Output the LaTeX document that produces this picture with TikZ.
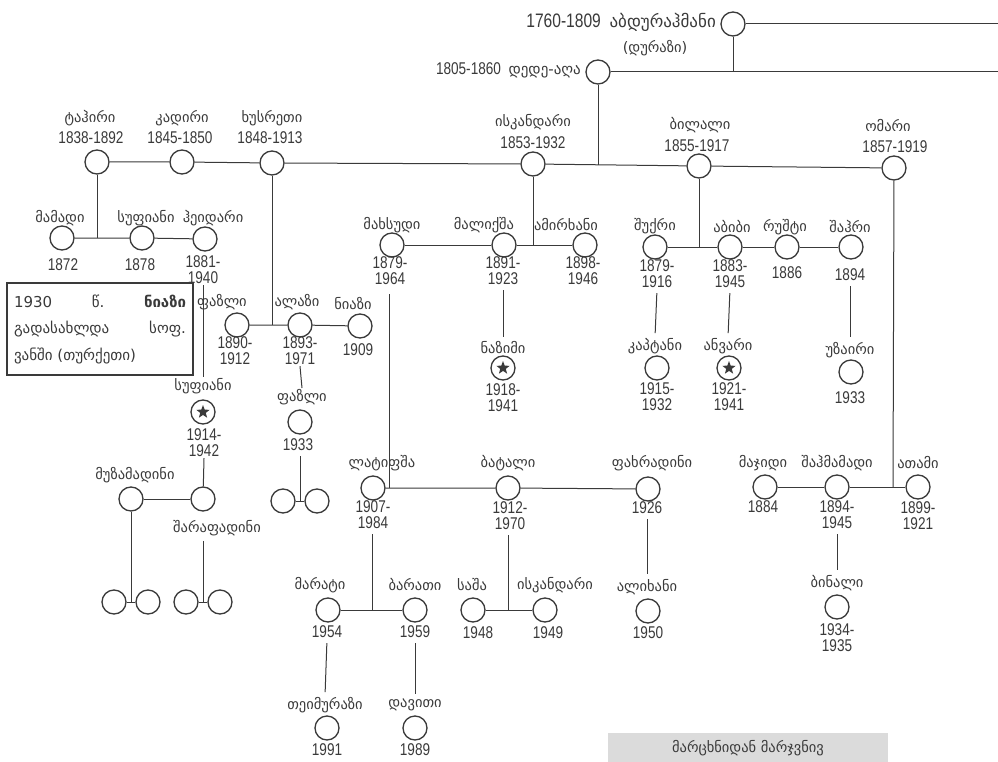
\documentclass[tikz,border=0pt]{standalone}
\usepackage{fontspec}
\setmainfont[FakeStretch=0.8]{Liberation Sans}
\newfontfamily\geo{DejaVu Sans}
\usetikzlibrary{shapes.geometric}
\definecolor{ink}{HTML}{3A3A3A}
\begin{document}
\begin{tikzpicture}[x=1pt,y=-1pt,
  every node/.style={text=ink},
  per/.style={circle,draw=ink,line width=1.3pt,minimum size=24pt,inner sep=0pt,fill=white},
  st/.style={star,star points=5,star point ratio=2.4,fill=ink,minimum size=14pt,inner sep=0pt},
  nm/.style={font=\geo\fontsize{14.5}{16}\selectfont,inner sep=1pt},
  dt/.style={font=\fontsize{17}{16}\selectfont,align=center,inner sep=1pt},
  ln/.style={draw=ink,line width=1pt},
  gap/.style={ln,shorten <=4pt,shorten >=4pt}]
\path[use as bounding box] (0,0) rectangle (998,762);
\fill[white] (0,0) rectangle (998,762);

% ---------- top ----------
\node[per] (A) at (733,24) {};
\node[font=\fontsize{19.5}{20}\selectfont,anchor=east,inner sep=1pt] (tA) at (717,22) {1760-1809\ \ {\geo\fontsize{17}{19}\selectfont აბდურაჰმანი}};
\node[nm,font=\geo\fontsize{14.5}{17}\selectfont] (tA2) at (655,48) {(დურაზი)};
\node[per] (D) at (598,72) {};
\node[dt,anchor=east] (tD) at (582,70) {1805-1860\ \ {\geo\fontsize{15}{17}\selectfont დედე-აღა}};
\coordinate (eA) at (998,24);
\coordinate (eD) at (998,72);
\coordinate (jA) at (733,72);
\coordinate (jD) at (598,165);
\draw[ln] (A) -- (eA);
\draw[ln] (D) -- (eD);
\draw[ln] (A) -- (jA);
\draw[ln] (D) -- (jD);

% ---------- generation 1 ----------
\node[per] (T) at (97,162) {};
\node[per] (K) at (182,162) {};
\node[per] (X) at (272,163) {};
\node[per] (I) at (533,164) {};
\node[per] (B) at (699,166) {};
\node[per] (O) at (894,168) {};
\node[nm] (tl) at (90,118) {ტაჰირი};   \node[dt] (td) at (91,138) {1838-1892};
\node[nm] (kl) at (182,118) {კადირი};   \node[dt] (kd) at (180,138) {1845-1850};
\node[nm] (xl) at (272,118) {ხუსრეთი};  \node[dt] (xd) at (270,138) {1848-1913};
\node[nm] (il) at (533,122) {ისკანდარი}; \node[dt] (id) at (533,143) {1853-1932};
\node[nm] (bl) at (700,125) {ბილალი};   \node[dt] (bd) at (697,146) {1855-1917};
\node[nm] (ol) at (888,126) {ომარი};    \node[dt] (od) at (895,147) {1857-1919};
\draw[ln] (T) -- (K) -- (X) -- (I) -- (B) -- (O);

% ---------- children of T ----------
\coordinate (jT) at (97,238);
\node[per] (M1) at (62,238) {};
\node[per] (S1) at (142,238) {};
\node[per] (H) at (205,239) {};
\node[nm] (m1l) at (60,218) {მამადი};   \node[dt] (m1d) at (63,265) {1872};
\node[nm] (s1l) at (146,218) {სუფიანი}; \node[dt] (s1d) at (140,265) {1878};
\node[nm] (hl) at (213,218) {ჰეიდარი};  \node[dt] (hd) at (203,270) {1881-\\1940};
\draw[ln] (T) -- (jT);
\draw[ln] (M1) -- (S1) -- (H);

% note box
\node[draw=ink,line width=2pt,minimum width=186pt,minimum height=92pt,inner sep=0pt] (box) at (100,329) {};
\node[font=\geo\fontsize{15}{26.5}\selectfont,align=left,inner sep=0pt] (boxt) at (100,329)
  {\makebox[172pt][s]{1930\hfill წ.\hfill\textbf{ნიაზი}}\\
   \makebox[172pt][s]{გადასახლდა\hfill სოფ.}\\
   \makebox[172pt][l]{ვანში (თურქეთი)}};

% sufiani line
\node[nm] (s2l) at (203,386) {სუფიანი};
\node[per] (S2) at (203,412) {};
\node[st] (S2s) at (S2) {};
\node[dt] (s2d) at (204,443) {1914-\\1942};
\draw[ln] (hd.south) -- (s2l.north);
\node[per] (S3) at (203,499) {};
\node[per] (M2) at (131,499) {};
\node[nm] (m2l) at (135,475) {მუზამადინი};
\node[nm] (shl) at (217,528) {შარაფადინი};
\draw[ln] (s2d.south) -- (S3);
\draw[ln] (M2) -- (S3);
\coordinate (jP1) at (131,602);
\coordinate (jP2) at (203,602);
\node[per] (P1a) at (114,602) {};
\node[per] (P1b) at (148,602) {};
\node[per] (P2a) at (186,602) {};
\node[per] (P2b) at (220,602) {};
\draw[ln] (M2) -- (jP1);
\draw[ln] (P1a) -- (P1b);
\draw[ln] ([yshift=-4pt]shl.south -| jP2) -- (jP2);
\draw[ln] (P2a) -- (P2b);

% ---------- children of X ----------
\coordinate (jX) at (272,325);
\node[per] (F1) at (237,325) {};
\node[per] (AL) at (300,325) {};
\node[per] (N) at (360,326) {};
\node[nm] (f1l) at (222,302) {ფაზლი}; \node[dt] (f1d) at (235,351) {1890-\\1912};
\node[nm] (all) at (297,302) {ალაზი}; \node[dt] (ald) at (300,351) {1893-\\1971};
\node[nm] (nl) at (353,304) {ნიაზი};  \node[dt] (nd) at (358,350) {1909};
\draw[ln] (X) -- (jX);
\draw[ln] (F1) -- (AL) -- (N);
\node[nm] (f2l) at (302,397) {ფაზლი};
\node[per] (F2) at (300,422) {};
\node[dt] (f2d) at (298,445) {1933};
\draw[ln] (ald.south) -- (f2l.north);
\coordinate (jP3) at (300,501);
\node[per] (P3a) at (283,501) {};
\node[per] (P3b) at (317,501) {};
\draw[ln] ([yshift=-4pt]f2d.south -| jP3) -- (jP3);
\draw[ln] (P3a) -- (P3b);

% ---------- children of I ----------
\coordinate (jI) at (533,245);
\node[per] (MX) at (392,245) {};
\node[per] (ML) at (504,245) {};
\node[per] (AM) at (585,245) {};
\node[nm] (mxl) at (392,225) {მახსუდი};  \node[dt] (mxd) at (390,271) {1879-\\1964};
\node[nm] (mll) at (484,225) {მალიქშა};  \node[dt] (mld) at (503,271) {1891-\\1923};
\node[nm] (aml) at (566,225) {ამირხანი}; \node[dt] (amd) at (583,271) {1898-\\1946};
\draw[ln] (I) -- (jI);
\draw[ln] (MX) -- (ML) -- (AM);
\node[nm] (nzl) at (503,348) {ნაზიმი};
\node[per] (NZ) at (503,368) {};
\node[st] (NZs) at (NZ) {};
\node[dt] (nzd) at (503,398) {1918-\\1941};
\draw[gap] (mld.south) -- (nzl.north);

% ---------- children of B ----------
\coordinate (jB) at (699,247);
\node[per] (SH) at (655,247) {};
\node[per] (AB) at (730,247) {};
\node[per] (RU) at (787,247) {};
\node[per] (SR) at (851,247) {};
\node[nm] (shkl) at (655,226) {შუქრი}; \node[dt] (shkd) at (657,274) {1879-\\1916};
\node[nm] (abl) at (732,227) {აბიბი};  \node[dt] (abd) at (730,274) {1883-\\1945};
\node[nm] (rul) at (785,227) {რუშტი};  \node[dt] (rud) at (787,273) {1886};
\node[nm] (srl) at (850,227) {შაჰრი};  \node[dt] (srd) at (850,275) {1894};
\draw[ln] (B) -- (jB);
\draw[ln] (SH) -- (AB) -- (RU) -- (SR);
\node[nm] (kpl) at (655,346) {კაპტანი};
\node[per] (KP) at (657,368) {};
\node[dt] (kpd) at (657,397) {1915-\\1932};
\node[nm] (anl) at (728,346) {ანვარი};
\node[per] (AN) at (729,368) {};
\node[st] (ANs) at (AN) {};
\node[dt] (and) at (729,397) {1921-\\1941};
\node[nm] (uzl) at (850,350) {უზაირი};
\node[per] (UZ) at (851,372) {};
\node[dt] (uzd) at (850,398) {1933};
\draw[gap] (shkd.south) -- (kpl.north);
\draw[gap] (abd.south) -- (anl.north);
\draw[gap] (srd.south) -- (uzl.north);

% ---------- children of O ----------
\coordinate (jO) at (893,487);
\node[per] (MJ) at (765,487) {};
\node[per] (SM) at (837,487) {};
\node[per] (AT) at (918,487) {};
\node[nm] (mjl) at (763,463) {მაჯიდი};    \node[dt] (mjd) at (763,507) {1884};
\node[nm] (sml) at (837,463) {შაჰმამადი}; \node[dt] (smd) at (837,515) {1894-\\1945};
\node[nm] (atl) at (918,463) {ათამი};     \node[dt] (atd) at (918,516) {1899-\\1921};
\draw[ln] (O) -- (jO);
\draw[ln] (MJ) -- (SM) -- (AT);
\node[nm] (bnl) at (837,583) {ბინალი};
\node[per] (BN) at (837,607) {};
\node[dt] (bnd) at (837,638) {1934-\\1935};
\draw[gap] (smd.south) -- (bnl.north);

% ---------- children of MX ----------
\coordinate (jMX) at (389,488);
\node[per] (LT) at (373,488) {};
\node[per] (BT) at (508,488) {};
\node[per] (FX) at (648,489) {};
\node[nm] (ltl) at (382,463) {ლატიფშა};  \node[dt] (ltd) at (373,515) {1907-\\1984};
\node[nm] (btl) at (508,463) {ბატალი};   \node[dt] (btd) at (510,516) {1912-\\1970};
\node[nm] (fxl) at (652,463) {ფახრადინი}; \node[dt] (fxd) at (647,508) {1926};
\draw[ln] ([yshift=-8pt]mxd.south -| jMX) -- (jMX);
\draw[ln] (LT) -- (BT) -- (FX);

\coordinate (jMB) at (372,610);
\coordinate (jSI) at (508,610);
\node[per] (MR) at (328,610) {};
\node[per] (BR) at (415,610) {};
\node[per] (SA) at (473,610) {};
\node[per] (IS) at (545,610) {};
\node[nm] (mrl) at (320,585) {მარატი};    \node[dt] (mrd) at (327,632) {1954};
\node[nm] (brl) at (415,585) {ბარათი};    \node[dt] (brd) at (415,632) {1959};
\node[nm] (sal) at (472,585) {საშა};      \node[dt] (sad) at (478,633) {1948};
\node[nm] (isl) at (555,585) {ისკანდარი}; \node[dt] (isd) at (548,633) {1949};
\draw[ln] ([yshift=-4pt]ltd.south -| jMB) -- (jMB);
\draw[ln] (MR) -- (BR);
\draw[ln] ([yshift=-4pt]btd.south -| jSI) -- (jSI);
\draw[ln] (SA) -- (IS);
\node[nm] (axl) at (647,587) {ალიხანი};
\node[per] (AX) at (648,611) {};
\node[dt] (axd) at (648,633) {1950};
\draw[gap] (fxd.south) -- (axl.north);

\node[nm] (tml) at (325,705) {თეიმურაზი};
\node[per] (TM) at (327,728) {};
\node[dt] (tmd) at (327,750) {1991};
\node[nm] (dvl) at (415,705) {დავითი};
\node[per] (DV) at (415,728) {};
\node[dt] (dvd) at (415,750) {1989};
\draw[gap] (mrd.south) -- (tml.north);
\draw[gap] (brd.south) -- (dvl.north);

% ---------- bottom label ----------
\node[fill=black!14,minimum width=280pt,minimum height=30pt,inner sep=0pt,
      font=\geo\fontsize{14.5}{16}\selectfont] (lr) at (748,748) {მარცხნიდან მარჯვნივ};
\end{tikzpicture}
\end{document}
